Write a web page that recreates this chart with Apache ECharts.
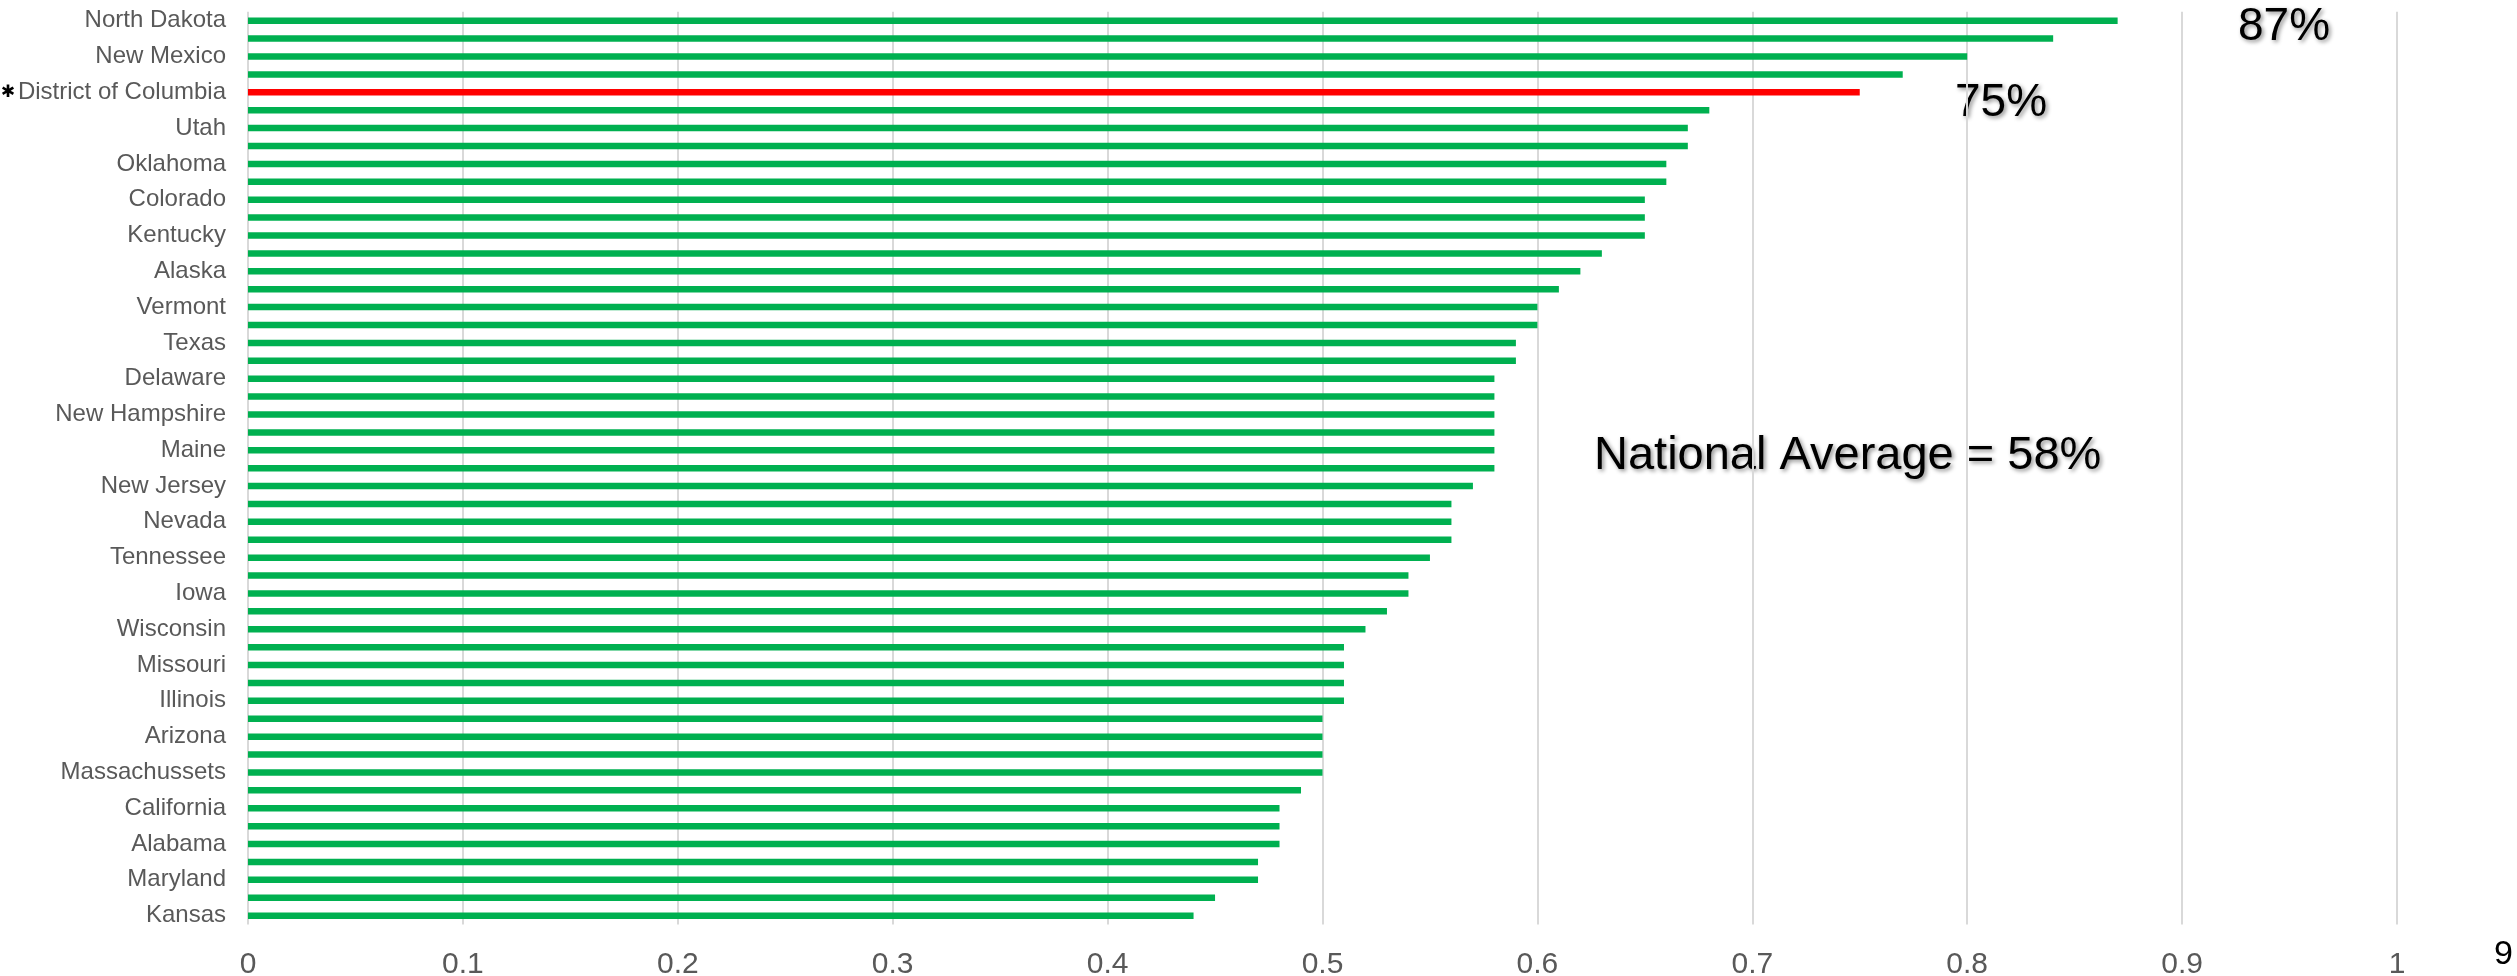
<!DOCTYPE html>
<html>
<head>
<meta charset="utf-8">
<title>Share by state</title>
<script src="https://cdn.jsdelivr.net/npm/echarts@6/dist/echarts.min.js"></script>
<style>
  html, body { margin: 0; padding: 0; background: #ffffff; }
  #chart { width: 2517px; height: 976px; }
</style>
</head>
<body>
<div id="chart"></div>
<script>
// Rows from top to bottom; only every other state is named on the axis.
const categories = [
  'North Dakota', '', 'New Mexico', '', 'District of Columbia', '', 'Utah', '',
  'Oklahoma', '', 'Colorado', '', 'Kentucky', '', 'Alaska', '', 'Vermont', '',
  'Texas', '', 'Delaware', '', 'New Hampshire', '', 'Maine', '', 'New Jersey', '',
  'Nevada', '', 'Tennessee', '', 'Iowa', '', 'Wisconsin', '', 'Missouri', '',
  'Illinois', '', 'Arizona', '', 'Massachussets', '', 'California', '',
  'Alabama', '', 'Maryland', '', 'Kansas'
];

const values = [
  0.87, 0.84, 0.80, 0.77, 0.75, 0.68, 0.67, 0.67, 0.66, 0.66,
  0.65, 0.65, 0.65, 0.63, 0.62, 0.61, 0.60, 0.60, 0.59, 0.59,
  0.58, 0.58, 0.58, 0.58, 0.58, 0.58, 0.57, 0.56, 0.56, 0.56,
  0.55, 0.54, 0.54, 0.53, 0.52, 0.51, 0.51, 0.51, 0.51, 0.50,
  0.50, 0.50, 0.50, 0.49, 0.48, 0.48, 0.48, 0.47, 0.47, 0.45,
  0.44
];

const xTicks = [0, 0.1, 0.2, 0.3, 0.4, 0.5, 0.6, 0.7, 0.8, 0.9, 1];

const highlightState = 'District of Columbia';
const nationalAverage = 0.58;
const pageNumber = '9';

const GREEN = '#00B050';
const RED = '#FF0000';
const FONT = '"Liberation Sans", Arial, sans-serif';

const pct = v => Math.round(v * 100) + '%';
const highlightIdx = categories.indexOf(highlightState);

const bigText = {
  fontFamily: FONT,
  fontSize: 46,
  fill: '#000000',
  textShadowColor: 'rgba(0,0,0,0.45)',
  textShadowBlur: 4,
  textShadowOffsetX: 2,
  textShadowOffsetY: 2
};

const chart = echarts.init(document.getElementById('chart'), null, { renderer: 'canvas' });

chart.setOption({
  animation: false,
  backgroundColor: '#ffffff',
  grid: {
    left: 248, right: 120, top: 11.75, bottom: 51.4,
    containLabel: false,
    outerBoundsMode: 'none'
  },
  xAxis: {
    type: 'value',
    min: xTicks[0],
    max: xTicks[xTicks.length - 1],
    interval: 0.1,
    axisLine: { show: false },
    axisTick: { show: false },
    splitLine: { show: true, lineStyle: { color: '#D9D9D9', width: 2 } },
    axisLabel: {
      color: '#595959',
      fontFamily: FONT,
      fontSize: 30,
      margin: 25,
      formatter: v => {
        const t = xTicks.find(x => Math.abs(x - v) < 1e-9);
        return t === undefined ? '' : String(t);
      }
    }
  },
  yAxis: {
    type: 'category',
    inverse: true,
    data: categories,
    axisLine: { show: false },
    axisTick: { show: false },
    axisLabel: {
      interval: 1,
      color: '#595959',
      fontFamily: FONT,
      fontSize: 24,
      margin: 22,
      formatter: v => v === highlightState ? '{star|✱}' + v : v,
      rich: {
        star: {
          fontFamily: '"DejaVu Sans", sans-serif',
          fontSize: 17,
          color: '#000000',
          padding: [0, 3, 0, 0]
        }
      }
    }
  },
  series: [{
    type: 'bar',
    barWidth: 6.5,
    data: values.map((v, i) => ({
      value: v,
      itemStyle: { color: i === highlightIdx ? RED : GREEN }
    }))
  }],
  graphic: [
    {
      type: 'text', left: 2238, top: 4,
      style: Object.assign({ text: pct(values[0]) }, bigText)
    },
    {
      type: 'text', left: 1955, top: 80,
      style: Object.assign({ text: pct(values[highlightIdx]) }, bigText)
    },
    {
      type: 'text', left: 1594, top: 433,
      style: Object.assign({ text: 'National Average = ' + pct(nationalAverage) }, bigText, { fontSize: 47 })
    },
    {
      type: 'text', left: 2494, top: 938,
      style: { text: pageNumber, fontFamily: FONT, fontSize: 34, fill: '#000000' }
    }
  ]
});
</script>
</body>
</html>
